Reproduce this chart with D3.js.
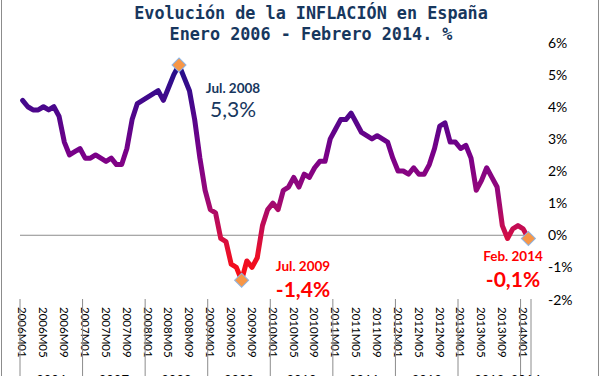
<!DOCTYPE html>
<html>
<head>
<meta charset="utf-8">
<script src="https://cdn.jsdelivr.net/npm/d3@7"></script>
<style>
  body { margin: 0; background: #fff; }
  svg { display: block; }
</style>
</head>
<body>
<svg id="svg" width="601" height="376"></svg>
<script>
// IPC interanual, España (%), enero 2006 - febrero 2014
var years = [2006, 2007, 2008, 2009, 2010, 2011, 2012, 2013, 2014];
var inflation = [
  4.2, 4.0, 3.9, 3.9, 4.0, 3.9, 4.0, 3.7, 2.9, 2.5, 2.6, 2.7,   // 2006
  2.4, 2.4, 2.5, 2.4, 2.3, 2.4, 2.2, 2.2, 2.7, 3.6, 4.1, 4.2,   // 2007
  4.3, 4.4, 4.5, 4.2, 4.6, 5.0, 5.3, 4.9, 4.5, 3.6, 2.4, 1.4,   // 2008
  0.8, 0.7, -0.1, -0.2, -0.9, -1.0, -1.4, -0.8, -1.0, -0.7, 0.3, 0.8, // 2009
  1.0, 0.8, 1.4, 1.5, 1.8, 1.5, 1.9, 1.8, 2.1, 2.3, 2.3, 3.0,   // 2010
  3.3, 3.6, 3.6, 3.8, 3.5, 3.2, 3.1, 3.0, 3.1, 3.0, 2.9, 2.4,   // 2011
  2.0, 2.0, 1.9, 2.1, 1.9, 1.9, 2.2, 2.7, 3.4, 3.5, 2.9, 2.9,   // 2012
  2.7, 2.8, 2.4, 1.4, 1.7, 2.1, 1.8, 1.5, 0.3, -0.1, 0.2, 0.3,  // 2013
  0.2, -0.1                                                     // 2014
];
var yTicks = [-2, -1, 0, 1, 2, 3, 4, 5, 6];
var highlights = [
  { month: "2008M07", label: "Jul. 2008", text: "5,3%" },
  { month: "2009M07", label: "Jul. 2009", text: "-1,4%" },
  { month: "2014M02", label: "Feb. 2014", text: "-0,1%" }
];

// etiquetas de mes tipo 2006M01
var months = inflation.map((d, i) => years[Math.floor(i / 12)] + "M" + String(i % 12 + 1).padStart(2, "0"));
var data = inflation.map((v, i) => ({ month: months[i], year: years[Math.floor(i / 12)], value: v }));

var font = "Lato, 'Open Sans', sans-serif";
var svg = d3.select("#svg");

var xScale = d3.scaleBand().domain(months).range([20, 531]);
var yScale = d3.scaleLinear().domain([-2, 6]).range([299.5, 42.5]);
var xc = d => xScale(d) + xScale.bandwidth() / 2;

// marco
svg.append("rect")
  .attr("x", 1.5).attr("y", -5)
  .attr("width", 597).attr("height", 390)
  .attr("fill", "none").attr("stroke", "#8c8c8c");

// título
var title = svg.append("g")
  .attr("font-family", "'DejaVu Sans Mono', 'Liberation Mono', monospace")
  .attr("font-weight", "bold")
  .attr("font-size", 16.8)
  .attr("fill", "#17375e")
  .attr("text-anchor", "middle");
title.append("text").attr("x", 311).attr("y", 18.5).text("Evolución de la INFLACIÓN en España");
title.append("text").attr("x", 311).attr("y", 39.5).text("Enero 2006 - Febrero 2014. %");

// eje Y a la derecha (solo etiquetas)
svg.append("g")
  .selectAll("text")
  .data(yTicks)
  .join("text")
  .attr("x", 548)
  .attr("y", d => yScale(d))
  .attr("dy", "0.36em")
  .attr("font-family", font)
  .attr("font-size", 14)
  .attr("fill", "#000")
  .text(d => d + "%");

// línea del cero
svg.append("line")
  .attr("x1", xScale.range()[0]).attr("x2", xScale.range()[1])
  .attr("y1", yScale(0)).attr("y2", yScale(0))
  .attr("stroke", "#8c8c8c").attr("stroke-width", 1);

// eje X: etiquetas cada 4 meses, verticales
svg.append("g")
  .selectAll("text")
  .data(months.filter((m, i) => i % 4 == 0))
  .join("text")
  .attr("transform", d => `translate(${xc(d)}, 307) rotate(90)`)
  .attr("dy", "0.36em")
  .attr("font-family", font)
  .attr("font-size", 11.5)
  .attr("fill", "#000")
  .text(d => d);

// separadores de año
var bounds = years.map(y => xScale(y + "M01")).concat([xScale.range()[1]]);
svg.append("g")
  .selectAll("line")
  .data(bounds)
  .join("line")
  .attr("x1", d => d).attr("x2", d => d)
  .attr("y1", 299).attr("y2", 380)
  .attr("stroke", "#8c8c8c").attr("stroke-width", 1);

// etiquetas de año (cortadas abajo, como en el original)
svg.append("g")
  .selectAll("text")
  .data(years)
  .join("text")
  .attr("x", (d, i) => (bounds[i] + bounds[i + 1]) / 2)
  .attr("y", 385)
  .attr("text-anchor", "middle")
  .attr("font-family", font)
  .attr("font-size", 13)
  .attr("fill", "#000")
  .text(d => d);

// degradado vertical azul -> púrpura -> rojo
var grad = svg.append("defs").append("linearGradient")
  .attr("id", "lineGrad")
  .attr("gradientUnits", "userSpaceOnUse")
  .attr("x1", 0).attr("x2", 0)
  .attr("y1", yScale(5.4)).attr("y2", yScale(-1.5));
[[0, "#20128a"], [0.18, "#44088c"], [0.42, "#7a0088"], [0.6, "#96087a"], [0.74, "#c20c55"], [0.86, "#e8102c"], [1, "#ff0a0a"]]
  .forEach(s => grad.append("stop").attr("offset", s[0]).attr("stop-color", s[1]));

svg.append("path")
  .datum(data)
  .attr("fill", "none")
  .attr("stroke", "url(#lineGrad)")
  .attr("stroke-width", 5)
  .attr("stroke-linejoin", "round")
  .attr("stroke-linecap", "round")
  .attr("d", d3.line().x(d => xc(d.month)).y(d => yScale(d.value)));

// marcadores
var hl = highlights.map(h => ({ month: h.month, label: h.label, text: h.text,
  value: data.find(d => d.month == h.month).value }));
svg.append("g")
  .selectAll("path")
  .data(hl)
  .join("path")
  .attr("transform", d => `translate(${xc(d.month)}, ${yScale(d.value)}) rotate(45)`)
  .attr("d", d3.symbol(d3.symbolSquare, 98))
  .attr("fill", "#f79646")
  .attr("stroke", "#8eb4e3")
  .attr("stroke-width", 1);

// anotaciones
var notes = [
  { x: 233, y1: 92.5, y2: 117, color: "#17375e", weight2: "normal" },
  { x: 303, y1: 270.5, y2: 296.5, color: "#ff0000", weight2: "bold" },
  { x: 513, y1: 260.5, y2: 286.5, color: "#ff0000", weight2: "bold" }
];
hl.forEach((h, i) => {
  var n = notes[i];
  svg.append("text")
    .attr("x", n.x).attr("y", n.y1)
    .attr("text-anchor", "middle")
    .attr("font-family", font)
    .attr("font-weight", "bold")
    .attr("font-size", 13.5)
    .attr("fill", n.color)
    .text(h.label);
  svg.append("text")
    .attr("x", n.x).attr("y", n.y2)
    .attr("text-anchor", "middle")
    .attr("font-family", font)
    .attr("font-weight", n.weight2)
    .attr("font-size", 21)
    .attr("fill", n.color)
    .text(h.text);
});
</script>
</body>
</html>
